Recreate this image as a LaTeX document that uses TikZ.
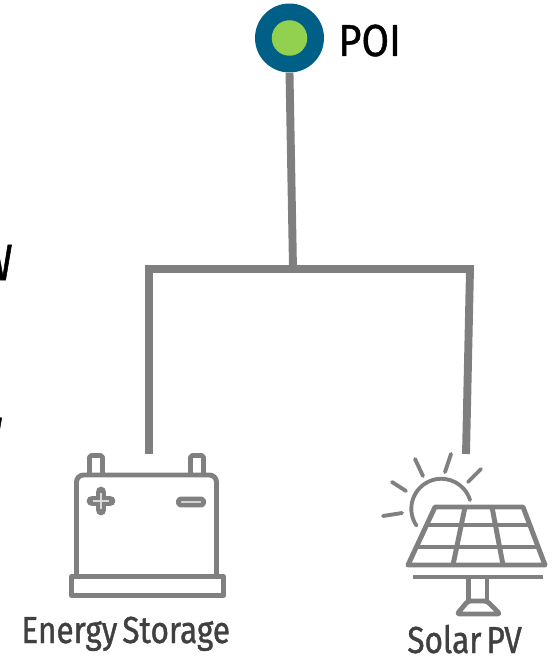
\documentclass[tikz,border=0pt]{standalone}
\usepackage{fontspec}
\setmainfont[FakeStretch=0.84,FakeBold=1,WordSpace=0.6]{Fira Sans}
\newfontfamily\poifont[FakeStretch=0.89,FakeBold=1]{Fira Sans}
\usetikzlibrary{positioning}
\definecolor{wire}{HTML}{7F7F7F}
\definecolor{icon}{HTML}{808080}
\definecolor{poiblue}{HTML}{005F86}
\definecolor{poigreen}{HTML}{92D14F}
\definecolor{caption}{HTML}{404040}
\tikzset{
  wireline/.style={draw=wire,line width=4.5pt},
  iconline/.style={draw=icon,line width=2.8pt,line join=round},
  iconthin/.style={draw=icon,line width=2.2pt,line join=round,line cap=round},
}
\begin{document}
\begin{tikzpicture}[x=0.02cm,y=-0.02cm]
\useasboundingbox (0,0) rectangle (554,658);
% cropped text at the left edge
\node[font=\fontsize{29}{30}\selectfont,text=black,anchor=base east,inner sep=0] (cuta) at (13,280) {W};
\node[font=\fontsize{25}{26}\selectfont,text=black,anchor=base east,inner sep=0] (cutb) at (3,448) {W};
% wires
\coordinate (tee) at (293,269);
\coordinate (teeleft) at (145,269);
\coordinate (teeright) at (474,269);
\coordinate (storeend) at (149,454);
\coordinate (solarend) at (466,454);
\node[circle,fill=poiblue,inner sep=0,minimum size=1.38cm] (poi) at (289.5,38) {};
\node[circle,fill=poigreen,inner sep=0,minimum size=0.71cm] (poicore) at (poi.center) {};
\node[font=\poifont\fontsize{25.5}{26}\selectfont,text=black,anchor=base west,inner sep=0] (poilabel) at (338,56) {POI};
\draw[wireline] (poi.south) -- (tee);
\draw[wireline] (teeleft) -- (teeright);
\draw[wireline] (149,269) -- (storeend);
\draw[wireline] (470,269) -- (solarend);
% battery
\draw[iconline,rounded corners=4pt] (76.5,576) -- (76.5,475) -- (216.5,475) -- (216.5,576);
\foreach \x in {89.5,190.5} {\draw[iconline,rounded corners=1pt] (\x,473) -- (\x,455.5) -- (\x+13,455.5) -- (\x+13,473);}
\draw[iconline] (71.5,576.5) rectangle (223.5,595.5);
\draw[icon,line width=6.2pt,line cap=round] (101,492) -- (101,510) (92,501) -- (110,501);
\draw[white!70!icon,line width=0.6pt] (101,493) -- (101,509) (93,501) -- (109,501);
\draw[iconline,rounded corners=1pt] (178.5,499) rectangle (203.5,505);
\node[font=\fontsize{21.4}{22}\selectfont,text=caption,anchor=base west,inner sep=0] (storelabel) at (21,643) {Energy Storage};
% solar panel
\draw[iconline] (435,507) -- (523,507) -- (545,565) -- (408,565) -- cycle;
\draw[iconline] (426,525) -- (532,525) (417,547) -- (538,547);
\draw[iconline] (465,507) -- (453,565) (492,507) -- (503,565);
\draw[iconthin,line cap=butt] (413,577) -- (543,577);
\draw[iconline] (468.5,578) -- (468.5,601) (487,578) -- (487,601);
\draw[iconline,rounded corners=1.5pt] (468,601) -- (487,601) -- (500,614) -- (457,614) -- cycle;
\draw[iconthin] (470,500) arc (-17:-214:30);
\foreach \xa/\ya/\xb/\yb in {383/516/402/513,392/482/406/491,415/459/423/476,451/454/445/472,481/469/468/482} {\draw[iconthin] (\xa,\ya) -- (\xb,\yb);}
\node[font=\fontsize{21.4}{22}\selectfont,text=caption,anchor=base west,inner sep=0] (solarlabel) at (407,653) {Solar PV};
\end{tikzpicture}
\end{document}
